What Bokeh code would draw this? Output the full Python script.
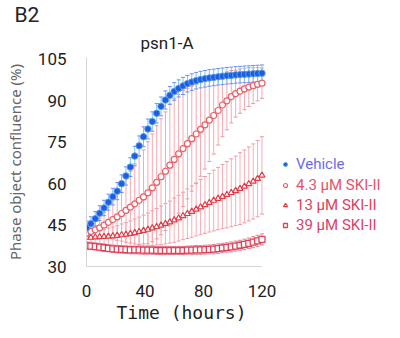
from bokeh.plotting import figure
from bokeh.models import ColumnDataSource, Whisker, TeeHead, Legend, LegendItem, Title, Range1d, FixedTicker
from bokeh.embed import file_html
from bokeh.resources import INLINE

# ---- data ----
time_h = [0, 3, 6, 9, 12, 15, 18, 21, 24, 27, 30, 33, 36, 39, 42, 45, 48, 51, 54, 57, 60,
          63, 66, 69, 72, 75, 78, 81, 84, 87, 90, 93, 96, 99, 102, 105, 108, 111, 114, 117, 120]

vehicle = [44, 45.5, 47.3, 49.3, 51.2, 53.3, 55.3, 57.3, 60, 62.8, 66, 70, 73.7, 77, 79.8, 82.5,
           85.5, 88, 90.3, 92, 93.4, 94.5, 95.4, 96.2, 96.8, 97.3, 97.7, 98, 98.3, 98.5, 98.7,
           98.9, 99.1, 99.2, 99.4, 99.5, 99.6, 99.7, 99.8, 99.9, 100]
vehicle_sd = [2.5, 2.5, 2.6, 2.7, 2.8, 2.9, 3, 3.1, 3.2, 3.3, 3.4, 3.5, 3.6, 3.6, 3.6, 3.5, 3.5,
              3.4, 3.3, 3.2, 3.2, 3.1, 3.1, 3, 3, 3, 3, 3, 3, 3, 3, 3, 3, 3, 3, 3, 3, 3, 3, 3, 3]

ski_4_3 = [42, 42.7, 43.3, 44, 45, 46, 47, 48, 49.2, 50.3, 51.5, 52.7, 54, 55.2, 56.7, 58.5,
           60.5, 62.5, 64.5, 66.7, 68.8, 70.8, 72.7, 74.5, 76.3, 78, 79.7, 81.3, 83, 84.7,
           86.5, 88.5, 90, 91.5, 92.6, 93.5, 94.3, 95, 95.5, 96, 96.4]
ski_4_3_sd = [2, 2.5, 3, 3.5, 4.5, 5.5, 7, 8.5, 10, 11.5, 13, 14.5, 16, 17, 18.5, 19.5, 20.5,
              21, 21.5, 22, 22, 21.5, 21, 20, 19, 18, 17, 16, 15, 14, 12.5, 11.5, 10.5, 9.5,
              8.5, 8, 7.5, 7, 6.5, 6, 5.5]

ski_13 = [40.5, 40.5, 40.6, 40.7, 40.8, 40.9, 41, 41.2, 41.4, 41.6, 41.9, 42.2, 42.6, 43, 43.4,
          43.9, 44.4, 44.9, 45.5, 46.1, 46.8, 47.5, 48.3, 49.1, 49.9, 50.7, 51.5, 52.3, 53.1,
          53.9, 54.6, 55.3, 56, 56.7, 57.4, 58.2, 59, 59.9, 60.8, 61.8, 63]
ski_13_sd = [1.5, 1.7, 2, 2.3, 2.6, 3, 3.3, 3.6, 4, 4.3, 4.6, 5, 5.3, 5.6, 6, 6.3, 6.6, 7, 7.3,
             7.6, 8, 8.3, 8.6, 9, 9.3, 9.6, 10, 10.3, 10.6, 11, 11.3, 11.6, 12, 12.3, 12.6, 13,
             13.2, 13.4, 13.6, 13.8, 14]

ski_39 = [37.5, 37.4, 37.2, 37, 36.8, 36.6, 36.4, 36.3, 36.2, 36.1, 36, 36, 36, 35.9, 35.9, 35.9,
          35.8, 35.8, 35.8, 35.8, 35.8, 35.8, 35.8, 35.9, 35.9, 36, 36, 36.1, 36.2, 36.3, 36.5,
          36.7, 36.9, 37.1, 37.4, 37.7, 38, 38.4, 38.8, 39.3, 39.8]
ski_39_sd = [1.2, 1.2, 1.2, 1.3, 1.3, 1.3, 1.3, 1.4, 1.4, 1.4, 1.4, 1.4, 1.5, 1.5, 1.5, 1.5,
             1.5, 1.5, 1.5, 1.5, 1.5, 1.5, 1.5, 1.5, 1.6, 1.6, 1.6, 1.6, 1.6, 1.7, 1.7, 1.7,
             1.7, 1.8, 1.8, 1.8, 1.9, 1.9, 2, 2, 2]

labels = ["Vehicle", "4.3 \u00b5M SKI-II", "13 \u00b5M SKI-II", "39 \u00b5M SKI-II"]
x_ticks = [0, 40, 80, 120]
y_ticks = [30, 45, 60, 75, 90, 105]

FONT = "Roboto"

# frame spans the legend area too; the x axis line is bounded to 0..120
p = figure(width=384, height=322, output_backend="svg", toolbar_location=None,
           x_range=Range1d(0, 203.8), y_range=Range1d(30, 105.7),
           min_border_left=86, min_border_right=0, min_border_top=30, min_border_bottom=30)

p.title.text = "B2"
p.title.align = "left"
p.title.offset = -72
p.title.text_font = FONT
p.title.text_font_size = "21px"
p.title.text_font_style = "normal"
p.title.text_color = "#222222"
p.title.standoff = 0
p.add_layout(Title(text="psn1-A", align="left", offset=54, text_font=FONT, text_font_size="17px",
                   text_font_style="normal", text_color="#222222", standoff=9), "above")

p.outline_line_color = None
p.grid.visible = False
p.background_fill_color = "white"
p.border_fill_color = "white"

for ax in (p.xaxis[0], p.yaxis[0]):
    ax.axis_line_color = "#d4d4d4"
    ax.major_tick_line_color = None
    ax.minor_tick_line_color = None
    ax.major_tick_out = 0
    ax.major_tick_in = 0
    ax.major_label_text_font = "Roboto"
    ax.major_label_text_font_size = "17px"
    ax.major_label_text_color = "#222222"
    ax.major_label_standoff = 20

p.xaxis.major_label_standoff = 18
p.xaxis.bounds = (0, 120)
p.xaxis.ticker = FixedTicker(ticks=x_ticks)
p.yaxis.ticker = FixedTicker(ticks=y_ticks)
p.yaxis.axis_label = "Phase object confluence (%)"
p.yaxis.axis_label_text_font = "Noto Sans"
p.yaxis.axis_label_text_font_size = "15px"
p.yaxis.axis_label_text_font_style = "normal"
p.yaxis.axis_label_text_color = "#666666"
p.yaxis.axis_label_standoff = 10

# x axis title as a text panel below the axis (placed under the 0..120 axis span)
p.add_layout(Title(text="Time (hours)", align="left", offset=30, text_font="DejaVu Sans Mono",
                   text_font_size="18px", text_font_style="normal", text_color="#222222",
                   standoff=0), "below")


def series_source(vals, sds):
    return ColumnDataSource(dict(t=time_h, y=vals,
                                 lo=[v - s for v, s in zip(vals, sds)],
                                 hi=[v + s for v, s in zip(vals, sds)]))


src_v = series_source(vehicle, vehicle_sd)
src_43 = series_source(ski_4_3, ski_4_3_sd)
src_13 = series_source(ski_13, ski_13_sd)
src_39 = series_source(ski_39, ski_39_sd)


def add_whisker(src, color, cap_color):
    w = Whisker(source=src, base="t", lower="lo", upper="hi", line_color=color, line_width=1,
                upper_head=TeeHead(size=4, line_color=cap_color, line_width=1),
                lower_head=TeeHead(size=4, line_color=cap_color, line_width=1))
    p.add_layout(w)


add_whisker(src_39, "#f2a0ac", "#e88090")
add_whisker(src_13, "#f5b0b8", "#ee9aa4")
add_whisker(src_43, "#f4aab2", "#ee98a2")
add_whisker(src_v, "#7cc4f4", "#6a8ff0")

r39 = p.scatter("t", "y", source=src_39, marker="square", size=6, fill_color="white",
                line_color="#e0405a", line_width=1.3)
r13 = p.scatter("t", "y", source=src_13, marker="triangle", size=6, fill_color="white",
                line_color="#e03c48", line_width=1.2)
r43 = p.scatter("t", "y", source=src_43, marker="circle", size=6, fill_color="white",
                line_color="#e8606a", line_width=1.2)
rv = p.scatter("t", "y", source=src_v, marker="circle", size=6.5, fill_color="#1f5ce0",
               line_color="#5aa0f0", line_width=1)

legend_colors = ["#6b6bea", "#e2546a", "#e0405a", "#e0406a"]
renderers = [rv, r43, r13, r39]
y_offsets = [93, 72, 52, 32]
for lab, col, r, yo in zip(labels, legend_colors, renderers, y_offsets):
    lg = Legend(items=[LegendItem(label=lab, renderers=[r])], location=(194, yo),
                label_text_color=col, label_text_font="Roboto", label_text_font_size="15px",
                background_fill_alpha=0, border_line_alpha=0, padding=0, margin=0,
                glyph_width=10, glyph_height=16, label_height=16, label_standoff=6,
                spacing=0)
    p.add_layout(lg)

open("out.html", "w").write(file_html(p, INLINE))
